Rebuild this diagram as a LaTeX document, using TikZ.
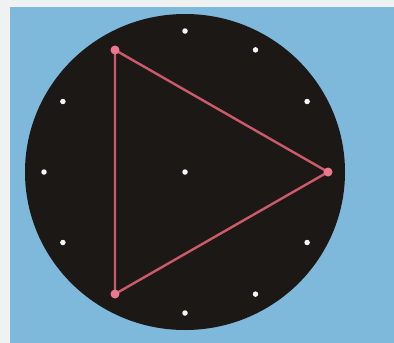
\documentclass[tikz,border=0pt]{standalone}
\definecolor{bgblue}{RGB}{126,184,218}
\definecolor{disk}{RGB}{28,24,22}
\definecolor{tri}{RGB}{205,90,105}
\definecolor{vert}{RGB}{235,120,140}
\definecolor{strip}{RGB}{240,242,242}
\begin{document}
\begin{tikzpicture}[x=1pt,y=-1pt,
  star/.style={circle,fill=white!92!gray,inner sep=0pt,minimum size=5.5pt},
  vtx/.style={circle,fill=vert,inner sep=0pt,minimum size=9pt},
  edge/.style={draw=tri,line width=2.4pt}]
\useasboundingbox (0,0) rectangle (394,343);
\fill[strip] (0,0) rectangle (394,343);
\fill[bgblue] (10,7) rectangle (394,343);
\fill[disk] (185,172) ellipse (160 and 158);
% stars at clock positions
\foreach \a/\n in {90/s12,60/s1,30/s2,-30/s4,-60/s5,-90/s6,180/s9,150/s10,210/s8}
  \node[star] (\n) at ({185+141*cos(\a)},{172-141*sin(\a)}) {};
\node[star] (c) at (185,172) {};
% triangle corners
\coordinate (pA) at (115,50);
\coordinate (pB) at (328,172);
\coordinate (pC) at (115,294);
\draw[edge] (pA) -- (pB) -- (pC) -- cycle;
\node[vtx] (A) at (pA) {};
\node[vtx] (B) at (pB) {};
\node[vtx] (C) at (pC) {};
\end{tikzpicture}
\end{document}
